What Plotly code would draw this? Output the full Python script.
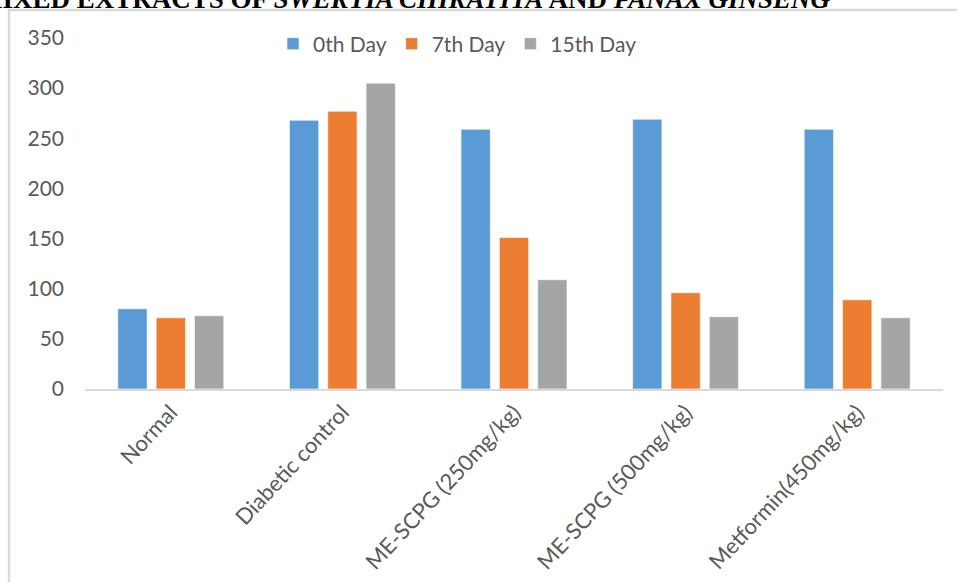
import plotly.graph_objects as go

# Blood glucose (mg/dL) per treatment group over the study period
groups = ["Normal", "Diabetic control", "ME-SCPG (250mg/kg)",
          "ME-SCPG (500mg/kg)", "Metformin(450mg/kg)"]
day0 = [80, 268, 259, 269, 259]
day7 = [71, 277, 151, 96, 89]
day15 = [73, 305, 109, 72, 71]

series_names = ["0th Day", "7th Day", "15th Day"]
series_colors = ["#5B9BD5", "#ED7D31", "#A5A5A5"]

y_ticks = [0, 50, 100, 150, 200, 250, 300, 350]

W, H = 957, 582
L, R, T, B = 85, 14, 38, 193
plot_w = W - L - R
plot_h = H - T - B


def px_x(x):
    return (x - L) / plot_w


def px_y(y):
    return (H - B - y) / plot_h


fig = go.Figure()
for name, vals, col in zip(series_names, [day0, day7, day15], series_colors):
    fig.add_trace(go.Bar(
        x=groups, y=vals, name=name,
        marker=dict(color=col, line=dict(color="rgba(255,255,255,0.6)", width=1)),
    ))

text_col = "#595959"
fig.update_layout(
    width=W, height=H,
    margin=dict(l=L, r=R, t=T, b=B),
    paper_bgcolor="white", plot_bgcolor="white",
    barmode="group", bargap=0.33, bargroupgap=0.235,
    font=dict(family="Lato, sans-serif", color=text_col),
    showlegend=True,
    legend=dict(
        orientation="h", x=px_x(273), y=px_y(44), xanchor="left", yanchor="middle",
        font=dict(size=21, color=text_col), bgcolor="rgba(0,0,0,0)",
        traceorder="normal",
    ),
    xaxis=dict(
        showline=True, linecolor="#D9D9D9", linewidth=1.5,
        showgrid=False, ticks="", tickangle=-47, automargin=False,
        tickfont=dict(size=22, color=text_col),
    ),
    yaxis=dict(
        range=[0, 350], tickvals=y_ticks, showgrid=False, zeroline=False,
        showline=False, ticks="", ticklabelstandoff=20, automargin=False,
        tickfont=dict(size=21, color=text_col),
    ),
)

# Outer chart frame (runs off the right and bottom edges of the page)
fig.add_shape(
    type="rect", xref="paper", yref="paper",
    x0=px_x(9), x1=px_x(W + 30), y0=px_y(10), y1=px_y(H + 30),
    line=dict(color="#D9D9D9", width=2.5), fillcolor="rgba(0,0,0,0)", layer="below",
)

# Heading text above the chart
fig.add_annotation(
    xref="paper", yref="paper", x=px_x(832), y=px_y(16),
    xanchor="right", yanchor="bottom", showarrow=False,
    text="<b>MIXED EXTRACTS OF <i>SWERTIA CHIRATITA</i> AND <i>PANAX GINSENG</i></b>",
    font=dict(family="Liberation Serif, Times New Roman, serif", size=27, color="black"),
)

fig.write_html("out.html")
